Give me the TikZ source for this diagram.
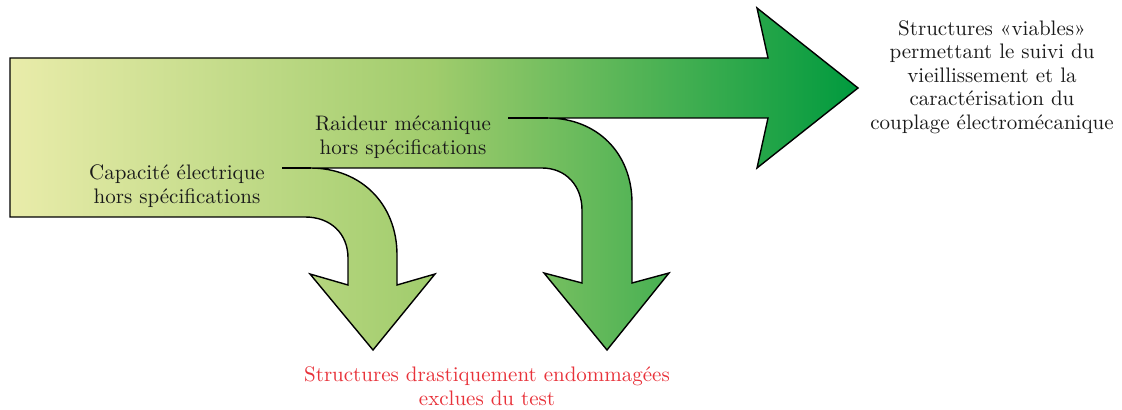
\documentclass[tikz,border=0pt]{standalone}
\usepackage{xcolor}
\usepackage{tikz}
\usetikzlibrary{positioning, calc}
\definecolor{flowlight}{HTML}{E9ECAA}
\definecolor{flowmid}{HTML}{A0CC6C}
\definecolor{flowdark}{HTML}{009A3E}
\definecolor{textink}{HTML}{1A1A1A}
\definecolor{rejectred}{HTML}{E8323A}
\tikzset{
  flowshape/.style={draw=black, line width=0.7pt, line join=miter,
    left color=flowlight, right color=flowdark, middle color=flowmid},
  splitline/.style={draw=black, line width=0.7pt},
  lbl/.style={align=center, font=\fontsize{10.5}{11.8}\selectfont, text=textink, inner sep=0pt},
  rlbl/.style={lbl, text=rejectred}
}

\begin{document}
\begin{tikzpicture}[x=0.5pt, y=-0.5pt]
\useasboundingbox (0,0) rectangle (1122,410);
% main flow, splitting into two rejected branches
\path[flowshape] (10,58) -- (768,58) -- (757,8) -- (858,88) -- (757,168) -- (768,118)
  -- (547,118) .. controls (597,118) and (632,153) .. (632,203)
  -- (632,283) -- (669,273) -- (607,350) -- (544,273) -- (582,283) -- (582,210)
  .. controls (582,186) and (566,168) .. (542,168)
  -- (310,168) .. controls (361,168) and (397,204) .. (397,255)
  -- (397,285) -- (435,274) -- (373,350) -- (310,274) -- (348,285) -- (348,258)
  .. controls (348,234) and (331,217) .. (305,217)
  -- (10,217) -- cycle;
% branch separators
\coordinate (rdA) at (508,118); \coordinate (rdB) at (548,118);
\coordinate (cpA) at (282,168); \coordinate (cpB) at (311,168);
\draw[splitline] (rdA) -- (rdB);
\draw[splitline] (cpA) -- (cpB);
% labels
\node[lbl] (viable) at (992,77) {Structures «viables»\\permettant le suivi du\\vieillissement et la\\caractérisation du\\couplage électromécanique};
\node[lbl] (raid) at (403,137) {Raideur mécanique\\hors spécifications};
\node[lbl] (capa) at (177,186) {Capacité électrique\\hors spécifications};
\node[rlbl] (excl) at (487,386) {Structures drastiquement endommagées\\exclues du test};
\end{tikzpicture}
\end{document}
